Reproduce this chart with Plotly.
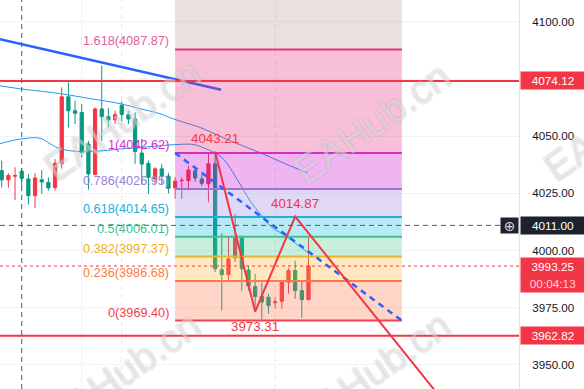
import plotly.graph_objects as go

# ---------------- data ----------------
opens  = [4034.9, 4030.9, 4032.5, 4034.6, 4031.3, 4024.0, 4030.9, 4029.8, 4027.6, 4038.1,
          4067.2, 4061.1, 4060.3, 4046.6, 4033.2, 4061.9, 4058.5, 4057.1, 4063.5, 4059.3,
          4057.5, 4042.6, 4038.1, 4031.3, 4035.7, 4032.5, 4027.4, 4030.5, 4030.6, 4034.9,
          4031.3, 4029.1, 4037.9, 3991.6, 3989.5, 3996.8, 4005.5, 3991.5, 3984.3, 3980.0,
          3979.6, 3977.2, 3977.9, 3986.2, 3991.3, 3982.5, 3978.6]
highs  = [4039.3, 4033.8, 4036.4, 4036.1, 4033.5, 4033.8, 4035.2, 4032.0, 4040.0, 4071.3,
          4073.5, 4065.5, 4064.1, 4048.0, 4062.5, 4080.8, 4062.3, 4061.1, 4065.2, 4061.1,
          4060.4, 4048.8, 4039.3, 4036.4, 4037.9, 4034.0, 4032.0, 4032.0, 4037.1, 4036.5,
          4033.0, 4042.9, 4043.21, 4007.6, 4005.8, 4016.0, 4006.6, 3993.4, 3989.8, 3986.0,
          3981.1, 3979.6, 3986.9, 3992.5, 3995.6, 3986.9, 4005.5]
lows   = [4027.5, 4027.5, 4022.1, 4028.0, 4020.1, 4018.6, 4024.8, 4026.2, 4026.2, 4035.8,
          4053.8, 4055.3, 4040.7, 4026.6, 4032.9, 4048.0, 4053.8, 4055.3, 4056.5, 4055.3,
          4037.9, 4028.8, 4024.8, 4029.1, 4029.1, 4024.9, 4022.6, 4022.6, 4026.2, 4030.0,
          4028.2, 4021.1, 3990.5, 3973.8, 3986.2, 3995.0, 3982.5, 3982.5, 3973.31, 3969.8,
          3972.4, 3974.5, 3974.5, 3981.1, 3978.9, 3970.6, 3978.2]
closes = [4030.9, 4032.8, 4032.8, 4031.6, 4024.0, 4031.7, 4030.0, 4027.4, 4038.1, 4067.2,
          4061.1, 4060.0, 4042.9, 4033.5, 4061.9, 4058.5, 4057.1, 4059.4, 4059.5, 4057.5,
          4043.3, 4037.8, 4032.0, 4035.7, 4032.8, 4027.2, 4030.3, 4030.7, 4035.2, 4031.7,
          4029.4, 4037.9, 3992.0, 3989.5, 3996.4, 4005.5, 3992.0, 3984.5, 3979.9, 3977.5,
          3976.0, 3977.6, 3986.2, 3991.3, 3982.5, 3978.6, 3993.25]
bar_index = list(range(len(opens)))

# moving averages (read points)
ma_a_x = [-0.25, 2.74, 8.74, 13.24, 17.74, 20.73, 23.73, 25.68, 30.18, 34.23, 38.73, 42.47, 45.77]
ma_a_y = [4072.0, 4070.7, 4068.6, 4066.4, 4064.2, 4062.0, 4059.8, 4057.6, 4053.3, 4048.0, 4042.8, 4038.0, 4034.0]
ma_b_x = [-0.25, 2.74, 5.74, 7.24, 8.74, 12.49, 18.19, 22.23, 25.98, 28.83, 30.93, 33.03,
          35.43, 37.23, 38.73, 40.22, 42.47, 45.92]
ma_b_y = [4046.7, 4048.7, 4049.1, 4046.7, 4044.5, 4043.2, 4044.5, 4045.4, 4046.3, 4046.3, 4044.1, 4040.6,
          4030.5, 4021.8, 4016.1, 4010.9, 4006.5, 3999.1]

# trend line (drawn)
trend_x = [-0.26, 32.9]
trend_y = [4092.4, 4070.3]

# fibonacci retracement
fib_ratios = ["1.618", "1", "0.786", "0.618", "0.5", "0.382", "0.236", "0"]
fib_prices = [4087.87, 4042.62, 4026.95, 4014.65, 4006.01, 3997.37, 3986.68, 3969.40]
fib_top = 4161.10  # 2.618 level (band above 1.618)
fib_start, fib_end = 26, 60

# zigzag pattern
zz_x = [32, 38, 44, 66]
zz_y = [4043.21, 3973.31, 4014.87, 3935.0]
zz_labels = ["4043.21", "3973.31", "4014.87"]

# horizontal levels
level_hi, level_lo = 4074.12, 3962.82
last_price = 3993.25
cross_price = 4011.00
countdown = "00:04:13"

y_ticks = [3950, 3975, 4000, 4025, 4050, 4100]
hidden_grid = [4075]

# ---------------- styling ----------------
UP, DOWN = "#f23645", "#089981"
line_cols = ["#e0387a", "#d42bc8", "#a070d8", "#20b0d8", "#40c090", "#e0b830", "#ff7a40", "#f04050"]
text_cols = ["#e0609a", "#d030d0", "#9a80d8", "#20b0d8", "#40c090", "#f0b020", "#ff7a40", "#f04050"]
band_cols = ["rgba(188,152,145,0.3)", "rgba(228,42,125,0.3)", "rgba(205,8,205,0.3)",
             "rgba(152,125,222,0.3)", "rgba(18,185,222,0.3)", "rgba(72,198,138,0.3)",
             "rgba(255,178,45,0.3)", "rgba(255,115,72,0.3)"]
FONT = "Liberation Sans, Arial, sans-serif"

fig = go.Figure()

fig.add_trace(go.Candlestick(
    x=bar_index, open=opens, high=highs, low=lows, close=closes,
    increasing=dict(line=dict(color=UP, width=1), fillcolor=UP),
    decreasing=dict(line=dict(color=DOWN, width=1), fillcolor=DOWN),
    whiskerwidth=0, hoverinfo="skip", showlegend=False))

for xs, ys in [(ma_a_x, ma_a_y), (ma_b_x, ma_b_y)]:
    fig.add_trace(go.Scatter(x=xs, y=ys, mode="lines", line=dict(color="#2196f3", width=1, shape="spline"),
                             hoverinfo="skip", showlegend=False))

fig.add_trace(go.Scatter(x=trend_x, y=trend_y, mode="lines", line=dict(color="#2962ff", width=2.5),
                         hoverinfo="skip", showlegend=False))

# fib bands
bounds = [fib_top] + fib_prices
for i in range(len(fib_prices)):
    hi, lo = bounds[i], bounds[i + 1]
    fig.add_trace(go.Scatter(
        x=[fib_start, fib_end, fib_end, fib_start, fib_start], y=[lo, lo, hi, hi, lo],
        mode="lines", line=dict(width=0), fill="toself", fillcolor=band_cols[i],
        hoverinfo="skip", showlegend=False))
for i, p in enumerate(fib_prices):
    fig.add_trace(go.Scatter(x=[fib_start, fib_end], y=[p, p], mode="lines",
                             line=dict(color=line_cols[i], width=2), hoverinfo="skip", showlegend=False))
    fig.add_annotation(x=fib_start, y=p, xref="x", yref="y", text=f"{fib_ratios[i]}({p:.2f})",
                       showarrow=False, xanchor="right", yanchor="bottom", xshift=-4, yshift=-1,
                       font=dict(family=FONT, size=12.7, color=text_cols[i]))

# fib trend (dashed)
fig.add_trace(go.Scatter(x=[fib_start, fib_end], y=[fib_prices[1], fib_prices[-1]], mode="lines",
                         line=dict(color="#2962ff", width=2.5, dash="6px,5px"), hoverinfo="skip", showlegend=False))

# zigzag
fig.add_trace(go.Scatter(x=zz_x, y=zz_y, mode="lines", line=dict(color=UP, width=2),
                         hoverinfo="skip", showlegend=False))
for i, lab in enumerate(zz_labels):
    below = zz_y[i] < zz_y[i - 1] if i > 0 else False
    fig.add_annotation(x=zz_x[i], y=zz_y[i], xref="x", yref="y", text=lab, showarrow=False,
                       yanchor="top" if below else "bottom", yshift=-5 if below else 4,
                       font=dict(family=FONT, size=13.3, color=UP))

shapes = [
    dict(type="line", xref="paper", yref="y", x0=0, x1=1, y0=v, y1=v, line=dict(color="#f0f3fa", width=1), layer="below")
    for v in hidden_grid
] + [
    dict(type="line", xref="paper", yref="y", x0=0, x1=1, y0=level_hi, y1=level_hi, line=dict(color=UP, width=2), layer="above"),
    dict(type="line", xref="paper", yref="y", x0=0, x1=1, y0=level_lo, y1=level_lo, line=dict(color=UP, width=2), layer="above"),
    dict(type="line", xref="paper", yref="y", x0=0, x1=1, y0=last_price, y1=last_price, line=dict(color=UP, width=1, dash="dot"), layer="above"),
    dict(type="line", xref="paper", yref="y", x0=0, x1=1, y0=cross_price, y1=cross_price, line=dict(color="#555a66", width=1, dash="5px,4px"), layer="above"),
    dict(type="line", xref="x", yref="paper", x0=3, x1=3, y0=0, y1=1, line=dict(color="#555a66", width=1, dash="5px,4px"), layer="above"),
    dict(type="line", xref="x", yref="paper", x0=12, x1=12, y0=0, y1=1, line=dict(color="#eef0f4", width=1), layer="below"),
    dict(type="line", xref="x", yref="paper", x0=18, x1=18, y0=0, y1=1, line=dict(color="#e4e6ec", width=1, dash="5px,4px"), layer="below"),
    dict(type="line", xref="x", yref="paper", x0=41, x1=41, y0=0, y1=1, line=dict(color="#e4e6ec", width=1, dash="5px,4px"), layer="below"),
]

# price badges on the right axis
def badge(y, text, bg, color="white", yshift=0):
    fig.add_annotation(x=1, y=y, xref="paper", yref="y", text=text, showarrow=False,
                       xanchor="left", yanchor="middle", xshift=1, yshift=yshift,
                       width=60, height=13, borderpad=2, bgcolor=bg,
                       font=dict(family=FONT, size=11.8, color=color))

badge(level_hi, f"{level_hi:.2f}", UP)
badge(level_lo, f"{level_lo:.2f}", UP)
badge(cross_price, f"{cross_price:.2f}", "#1e222d")
badge(last_price, f"{last_price:.2f}", UP)
badge(last_price, countdown, UP, color="#ffd0d5", yshift=-17)
fig.add_annotation(x=1, y=cross_price, xref="paper", yref="y", text="⊕", showarrow=False,
                   xanchor="right", yanchor="middle", width=15, height=13, borderpad=1,
                   bgcolor="#1e222d", font=dict(family="DejaVu Sans", size=14, color="#d1d4dc"))

# watermarks
shadow = ",".join(f"{dx}px {dy}px 0 rgba(150,150,150,0.4)" for dx, dy in [(1, 1), (-1, -1), (1, -1), (-1, 1)])
for cx, cy in [(122, 120), (372, 123), (622, 120), (122, 372), (372, 372)]:
    fig.add_annotation(x=cx / 519, y=1 - cy / 389, xref="paper", yref="paper", text="EAHub.cn",
                       showarrow=False, textangle=-35, xanchor="center", yanchor="middle",
                       font=dict(family=FONT, size=40, color="rgba(255,255,255,0.35)", shadow=shadow))

fig.update_layout(
    width=584, height=389, margin=dict(l=0, r=65, t=0, b=0),
    paper_bgcolor="white", plot_bgcolor="white", showlegend=False,
    shapes=shapes, hovermode=False,
    xaxis=dict(range=[-0.255, 77.56], visible=False, rangeslider=dict(visible=False)),
    yaxis=dict(range=[3939.5, 4109.5], side="right", tickvals=y_ticks,
               ticktext=[f"{v:.2f}" for v in y_ticks], showgrid=True, gridcolor="#f0f3fa",
               zeroline=False, showline=True, linecolor="#e0e3eb", linewidth=1,
               ticks="", ticklabelstandoff=10,
               tickfont=dict(family=FONT, size=11.6, color="#131722")),
)

fig.write_html("out.html")
